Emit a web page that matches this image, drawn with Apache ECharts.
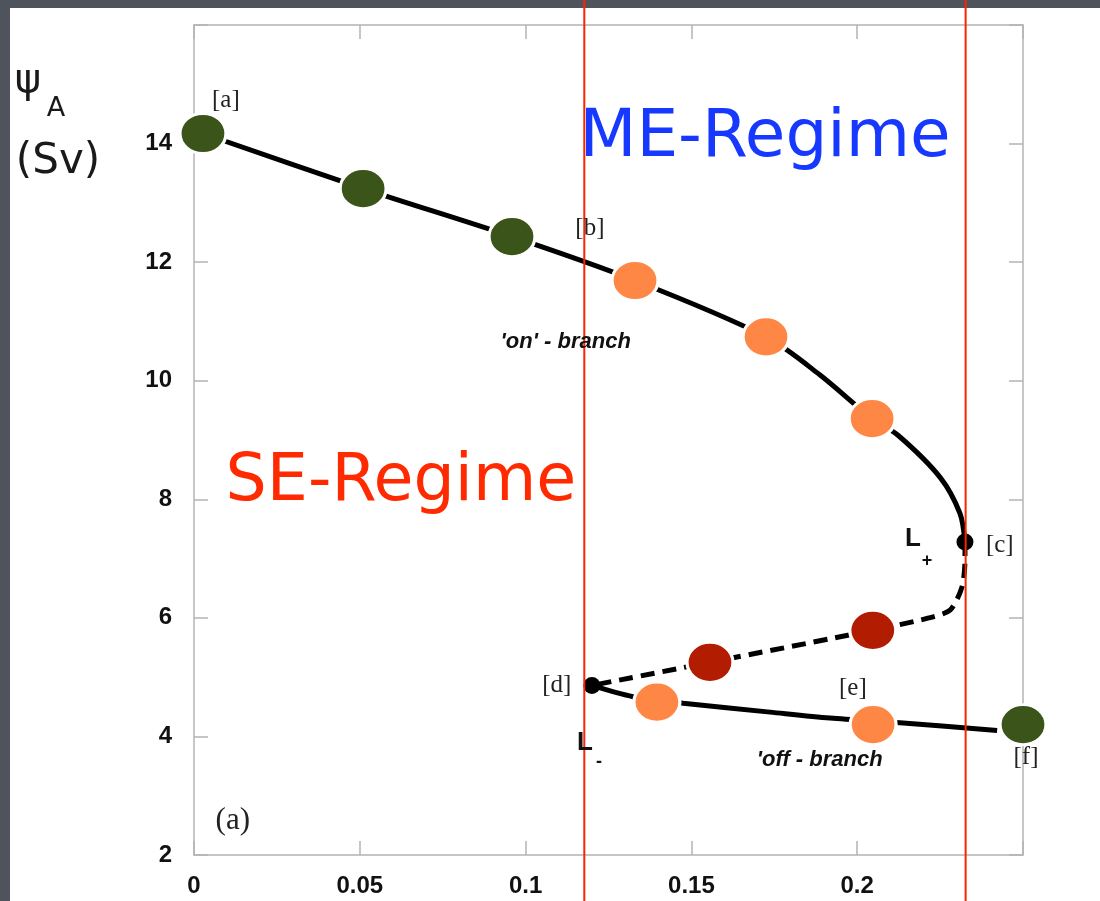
<!DOCTYPE html>
<html>
<head>
<meta charset="utf-8">
<script src="https://cdn.jsdelivr.net/npm/echarts@6/dist/echarts.min.js"></script>
<style>
html,body{margin:0;padding:0;background:#4f535c;}
#c{width:1100px;height:901px;}
</style>
</head>
<body>
<div id="c"></div>
<script>
// ---- data ----
const xTicks = [0, 0.05, 0.1, 0.15, 0.2];
const yTicks = [2, 4, 6, 8, 10, 12, 14];
const onBranch = [[0.0027,14.17],[0.051,13.24],[0.0959,12.43],[0.133,11.69],[0.1725,10.74],[0.1887,10.10],[0.2045,9.36],[0.2123,9.08],[0.225,8.37],[0.231,7.76],[0.2325,7.28]];
const unstableBranch = [[0.2325,7.28],[0.2325,6.97],[0.2316,6.52],[0.228,6.13],[0.221,5.99],[0.2047,5.79],[0.1556,5.25],[0.120,4.86]];
const offBranch = [[0.120,4.86],[0.1324,4.67],[0.1475,4.56],[0.1737,4.41],[0.1918,4.31],[0.2129,4.23],[0.2422,4.10]];
const greenPts = [[0.0027,14.17],[0.051,13.24],[0.0959,12.43],[0.25,4.20]];
const orangePts = [[0.133,11.69],[0.1725,10.74],[0.2045,9.36],[0.1396,4.58],[0.2048,4.20]];
const redPts = [[0.2047,5.79],[0.1556,5.25]];
const limitPts = [[0.2325,7.28],[0.120,4.86]];
const regimeBounds = [0.1177, 0.2327];
const pointLabels = ['[a]','[b]','[c]','[d]','[e]','[f]'];
const pointLabelPos = [[0.0096,14.72],[0.1194,12.57],[0.243,7.22],[0.1094,4.86],[0.1987,4.81],[0.2509,3.65]];
const branchLabels = ["'on' - branch", "'off - branch"];
const branchLabelPos = [[0.1121,10.65],[0.1887,3.60]];
const regimeLabels = ['ME-Regime','SE-Regime'];
const regimeLabelPos = [[0.1722,14.08],[0.0624,8.27]];

const chart = echarts.init(document.getElementById('c'));
const axisCol = '#b4b4b4';
const grid = {left:194, right:77, top:25, bottom:46};
const option = {
  backgroundColor: '#4f535c',
  animation: false,
  grid: grid,
  xAxis: [{
    type:'value', min:0, max:0.25, interval:0.05, position:'bottom',
    axisLine:{show:true, onZero:false, lineStyle:{color:axisCol, width:1.5}},
    axisTick:{show:true, inside:true, length:14, lineStyle:{color:axisCol, width:1.5}},
    splitLine:{show:false},
    axisLabel:{margin:19, color:'#111', fontFamily:'Liberation Sans', fontWeight:'bold', fontSize:24,
      formatter: v => xTicks.some(t=>Math.abs(t-v)<1e-9) ? String(+v.toFixed(2)) : ''}
  },{
    type:'value', min:0, max:0.25, interval:0.05, position:'top',
    axisLine:{show:true, onZero:false, lineStyle:{color:axisCol, width:1.5}},
    axisTick:{show:true, inside:true, length:14, lineStyle:{color:axisCol, width:1.5}},
    splitLine:{show:false}, axisLabel:{show:false}
  }],
  yAxis: [{
    type:'value', min:2, max:16, interval:2, position:'left',
    axisLine:{show:true, onZero:false, lineStyle:{color:axisCol, width:1.5}},
    axisTick:{show:true, inside:true, length:14, lineStyle:{color:axisCol, width:1.5}},
    splitLine:{show:false},
    axisLabel:{margin:22, color:'#111', fontFamily:'Liberation Sans', fontWeight:'bold', fontSize:24,
      formatter: v => yTicks.indexOf(v) >= 0 ? String(v) : ''}
  },{
    type:'value', min:2, max:16, interval:2, position:'right',
    axisLine:{show:true, onZero:false, lineStyle:{color:axisCol, width:1.5}},
    axisTick:{show:true, inside:true, length:14, lineStyle:{color:axisCol, width:1.5}},
    splitLine:{show:false}, axisLabel:{show:false}
  }],
  series: [
    {type:'line', data:onBranch, smooth:0.3, symbol:'none', lineStyle:{color:'#000', width:5}, z:3},
    {type:'line', data:unstableBranch, smooth:0.25, symbol:'none', lineStyle:{color:'#000', width:5, type:[14,8]}, z:3},
    {type:'line', data:offBranch, smooth:0.3, symbol:'none', lineStyle:{color:'#000', width:5}, z:3},
    {type:'scatter', data:limitPts, symbol:'circle', symbolSize:17, itemStyle:{color:'#000', opacity:1}, z:4},
    {type:'scatter', data:greenPts, symbolSize:[46,40], clip:false, itemStyle:{color:'#3a5419', borderColor:'#fff', borderWidth:3, opacity:1}, z:5},
    {type:'scatter', data:orangePts, symbolSize:[46,40], clip:false, itemStyle:{color:'#ff8746', borderColor:'#fff', borderWidth:3, opacity:1}, z:5},
    {type:'scatter', data:redPts, symbolSize:[46,40], clip:false, itemStyle:{color:'#b21c00', borderColor:'#fff', borderWidth:3, opacity:1}, z:5}
  ]
};
chart.setOption(option);

const px = p => chart.convertToPixel({xAxisIndex:0, yAxisIndex:0}, p);
const g = [];
g.push({type:'rect', shape:{x:10, y:8, width:1090, height:893}, style:{fill:'#fff'}, z:-10, silent:true});
regimeBounds.forEach(v => {
  const x = chart.convertToPixel({xAxisIndex:0}, v);
  g.push({type:'line', shape:{x1:x, y1:0, x2:x, y2:901}, style:{stroke:'#ff2200', lineWidth:2}, z:100});
});
pointLabels.forEach((t,i) => {
  const p = px(pointLabelPos[i]);
  g.push({type:'text', x:p[0], y:p[1], style:{text:t, fill:'#222', font:'25px "Liberation Serif"', align:'center', verticalAlign:'middle'}, z:101});
});
branchLabels.forEach((t,i) => {
  const p = px(branchLabelPos[i]);
  g.push({type:'text', x:p[0], y:p[1], style:{text:t, fill:'#111', font:'italic bold 22px "Liberation Sans"', align:'center', verticalAlign:'middle'}, z:101});
});
const regCols = ['#1638ff', '#ff2a00'];
const regSizes = [66, 65];
regimeLabels.forEach((t,i) => {
  const p = px(regimeLabelPos[i]);
  g.push({type:'text', x:p[0], y:p[1], style:{text:t, fill:regCols[i], font:regSizes[i]+'px "DejaVu Sans"', align:'center', verticalAlign:'middle'}, z:102});
});
// L+ and L- labels
const lp = px(limitPts[0]), lm = px(limitPts[1]);
g.push({type:'text', x:lp[0]-52, y:lp[1]-3, style:{text:'L', fill:'#111', font:'bold 26px "Liberation Sans"', align:'center', verticalAlign:'middle'}, z:101});
g.push({type:'text', x:lp[0]-38, y:lp[1]+19, style:{text:'+', fill:'#111', font:'bold 18px "Liberation Sans"', align:'center', verticalAlign:'middle'}, z:101});
g.push({type:'text', x:lm[0]-7, y:lm[1]+57, style:{text:'L', fill:'#111', font:'bold 26px "Liberation Sans"', align:'center', verticalAlign:'middle'}, z:101});
g.push({type:'text', x:lm[0]+7, y:lm[1]+77, style:{text:'-', fill:'#111', font:'bold 18px "Liberation Sans"', align:'center', verticalAlign:'middle'}, z:101});
// panel label
const pa = px([0.0117, 2.57]);
g.push({type:'text', x:pa[0], y:pa[1], style:{text:'(a)', fill:'#222', font:'31px "Liberation Serif"', align:'center', verticalAlign:'middle'}, z:101});
// y-axis title
g.push({type:'text', x:28, y:82, style:{text:'ψ', fill:'#1a1a1a', font:'40px "DejaVu Sans"', align:'center', verticalAlign:'middle'}, z:101});
g.push({type:'text', x:56, y:109, style:{text:'A', fill:'#1a1a1a', font:'27px "DejaVu Sans"', align:'center', verticalAlign:'middle'}, z:101});
g.push({type:'text', x:58, y:162, style:{text:'(Sv)', fill:'#1a1a1a', font:'42px "DejaVu Sans"', align:'center', verticalAlign:'middle'}, z:101});
chart.setOption({graphic:{elements:g}});
</script>
</body>
</html>
